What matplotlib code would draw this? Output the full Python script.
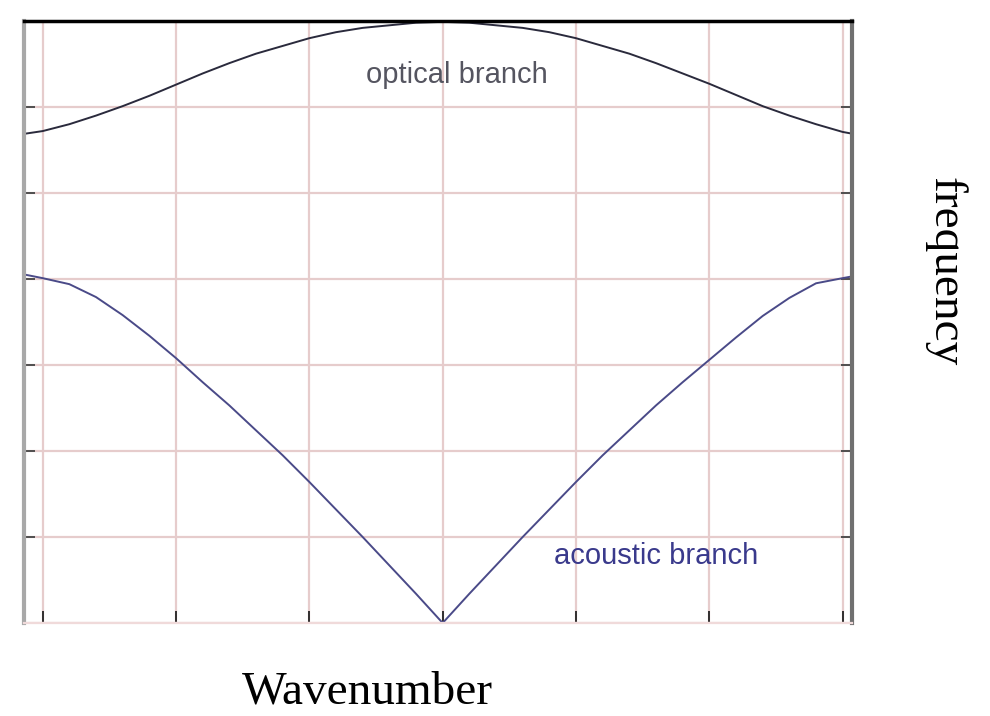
import matplotlib
matplotlib.use("Agg")
import matplotlib.pyplot as plt

# Acoustic branch: wavenumber vs frequency
acoustic_k = [-3.13, -3.0, -2.8, -2.6, -2.4, -2.2, -2.0, -1.8, -1.6, -1.4, -1.2, -1.0,
              -0.8, -0.6, -0.4, -0.2, 0.0, 0.2, 0.4, 0.6, 0.8, 1.0, 1.2, 1.4, 1.6,
              1.8, 2.0, 2.2, 2.4, 2.6, 2.8, 3.0, 3.07]
acoustic_w = [4.05, 4.01, 3.94, 3.79, 3.58, 3.34, 3.08, 2.80, 2.53, 2.24, 1.95, 1.64,
              1.32, 1.00, 0.67, 0.34, 0.0, 0.34, 0.67, 1.00, 1.32, 1.64, 1.95, 2.24, 2.53,
              2.80, 3.06, 3.32, 3.57, 3.78, 3.95, 4.01, 4.03]

# Optical branch
optical_k = [-3.13, -3.0, -2.8, -2.6, -2.4, -2.2, -2.0, -1.8, -1.6, -1.4, -1.2, -1.0,
             -0.8, -0.6, -0.4, -0.2, 0.0, 0.2, 0.4, 0.6, 0.8, 1.0, 1.2, 1.4, 1.6,
             1.8, 2.0, 2.2, 2.4, 2.6, 2.8, 3.0, 3.07]
optical_w = [5.69, 5.72, 5.80, 5.90, 6.01, 6.13, 6.26, 6.39, 6.51, 6.62, 6.71, 6.80,
             6.87, 6.92, 6.95, 6.98, 6.99, 6.98, 6.95, 6.92, 6.87, 6.80, 6.71, 6.62, 6.51,
             6.39, 6.27, 6.14, 6.01, 5.90, 5.80, 5.71, 5.69]

x_ticks = [-3, -2, -1, 0, 1, 2, 3]
y_ticks = [0, 1, 2, 3, 4, 5, 6, 7]

fig = plt.figure(figsize=(9.9, 7.16), dpi=100)
ax = fig.add_axes([24/990, 1 - 623/716, (852-24)/990, (623-21)/716])

ax.set_xlim(-3.14, 3.07)
ax.set_ylim(0, 7)
ax.set_xticks(x_ticks)
ax.set_yticks(y_ticks)
ax.set_xticklabels([])
ax.set_yticklabels([])
ax.grid(True, color='#e6cccc', linewidth=1.6)
ax.set_axisbelow(True)

ax.tick_params(axis='x', direction='in', length=9, width=1.3, color='#222222', bottom=True, top=False)
ax.tick_params(axis='y', direction='in', length=8, width=1.3, color='#444444', left=True, right=True)

ax.spines['top'].set_color('black')
ax.spines['top'].set_linewidth(2.5)
ax.spines['left'].set_color('#a8a8a8')
ax.spines['left'].set_linewidth(3)
ax.spines['right'].set_color('#707070')
ax.spines['right'].set_linewidth(3)
ax.spines['bottom'].set_color('#f0dada')
ax.spines['bottom'].set_linewidth(1.6)

ax.plot(optical_k, optical_w, color='#2a2a3c', linewidth=1.4, clip_on=False)
ax.plot(acoustic_k, acoustic_w, color='#4a4a88', linewidth=1.4, clip_on=False)

ax.text(0.11, 6.37, 'optical branch', ha='center', va='center', fontsize=21,
        family='Liberation Sans', color='#555560')
ax.text(1.60, 0.78, 'acoustic branch', ha='center', va='center', fontsize=21,
        family='Liberation Sans', color='#3a3a8c')

fig.text(367/990, 1 - 692/716, 'Wavenumber', ha='center', va='center', fontsize=34,
         family='Liberation Serif', color='black')
fig.text(945/990, 1 - 272/716, 'frequency', ha='center', va='center', fontsize=34,
         family='Liberation Serif', color='black', rotation=-90)

fig.savefig('out.png', dpi=100)
